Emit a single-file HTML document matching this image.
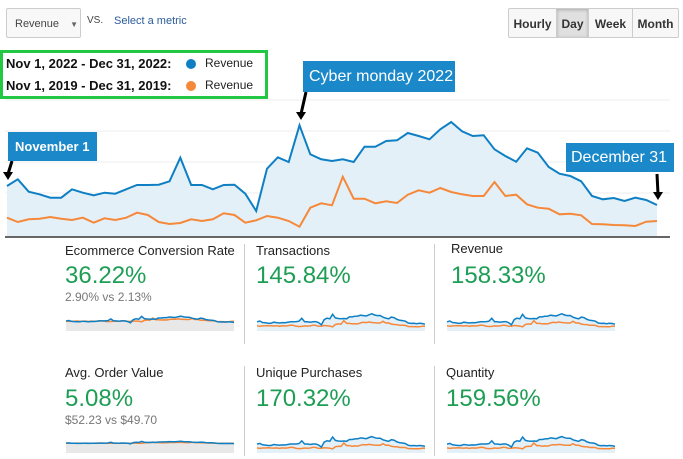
<!DOCTYPE html>
<html><head><meta charset="utf-8">
<style>
body{margin:0;width:683px;height:459px;background:#fff;font-family:"Liberation Sans",Arial,sans-serif;position:relative;overflow:hidden}
.abs{position:absolute}
.btn{position:absolute;top:8px;height:30px;border:1px solid #ccc;background:#f7f7f7;font-size:12px;font-weight:bold;color:#333;line-height:30px;text-align:center;box-sizing:border-box}
.title{position:absolute;font-size:13px;color:#222}
.big{position:absolute;font-size:24px;color:#1e9e55}
.sub{position:absolute;font-size:12px;color:#777}
.lbl{position:absolute;background:#1a88c9;color:#fff;box-sizing:border-box}
</style></head><body>
<div class="abs" style="left:6px;top:8px;width:75px;height:30px;border:1px solid #ccc;border-radius:2px;background:#f8f8f8;font-size:11px;color:#444;line-height:30px;box-sizing:border-box;padding-left:8px">Revenue <span style="font-size:8px;margin-left:8px;color:#666">▼</span></div>
<div class="abs" style="left:87px;top:15px;font-size:10px;color:#444">VS.</div>
<div class="abs" style="left:114px;top:15px;font-size:11px;color:#2a5b9a">Select a metric</div>
<div class="btn" style="left:508px;width:49px;border-radius:2px 0 0 2px">Hourly</div>
<div class="btn" style="left:556px;width:33px;background:#e0e0e0;box-shadow:inset 0 1px 3px #aaa">Day</div>
<div class="btn" style="left:588px;width:45px">Week</div>
<div class="btn" style="left:632px;width:47px;border-radius:0 2px 2px 0">Month</div>
<div class="abs" style="left:0;top:50px;width:268px;height:49px;border:3px solid #22c744;box-sizing:border-box"></div>
<div class="abs" style="left:6px;top:56px;font-size:13px;font-weight:bold;color:#111">Nov 1, 2022 - Dec 31, 2022:</div>
<div class="abs" style="left:6px;top:78px;font-size:13px;font-weight:bold;color:#111">Nov 1, 2019 - Dec 31, 2019:</div>
<div class="abs" style="left:186px;top:59px;width:10px;height:10px;border-radius:5px;background:#0f7fc4"></div>
<div class="abs" style="left:186px;top:81px;width:10px;height:10px;border-radius:5px;background:#f6883a"></div>
<div class="abs" style="left:205px;top:56px;font-size:12px;color:#222">Revenue</div>
<div class="abs" style="left:205px;top:78px;font-size:12px;color:#222">Revenue</div>

<svg id="main" class="abs" style="left:0;top:0" width="683" height="459"></svg>

<div class="lbl" style="left:8px;top:132px;width:89px;height:29px;font-size:13px;font-weight:bold;line-height:29px;padding-left:7px">November 1</div>
<div class="lbl" style="left:303px;top:61px;width:152px;height:31px;font-size:16px;line-height:31px;padding-left:6px">Cyber monday 2022</div>
<div class="lbl" style="left:566px;top:143px;width:108px;height:29px;font-size:16px;line-height:29px;padding-left:5px">December 31</div>

<div class="abs" style="left:244px;top:244px;width:1px;height:100px;background:#ccc"></div>
<div class="abs" style="left:434px;top:244px;width:1px;height:100px;background:#ccc"></div>
<div class="abs" style="left:244px;top:366px;width:1px;height:90px;background:#ccc"></div>
<div class="abs" style="left:434px;top:366px;width:1px;height:90px;background:#ccc"></div>

<div class="title" style="left:65px;top:243px">Ecommerce Conversion Rate</div>
<div class="big" style="left:65px;top:262px">36.22%</div>
<div class="sub" style="left:65px;top:290px">2.90% vs 2.13%</div>
<div class="title" style="left:256px;top:243px">Transactions</div>
<div class="big" style="left:256px;top:262px">145.84%</div>
<div class="title" style="left:451px;top:241px">Revenue</div>
<div class="big" style="left:451px;top:262px">158.33%</div>
<div class="title" style="left:65px;top:365px">Avg. Order Value</div>
<div class="big" style="left:65px;top:385px">5.08%</div>
<div class="sub" style="left:65px;top:413px">$52.23 vs $49.70</div>
<div class="title" style="left:256px;top:365px">Unique Purchases</div>
<div class="big" style="left:256px;top:385px">170.32%</div>
<div class="title" style="left:446px;top:365px">Quantity</div>
<div class="big" style="left:446px;top:385px">159.56%</div>

<script>
const revenue2022 = [150,170,133,125,115,115,140,130,122,130,127,140,153,153,154,164,235,153,153,140,153,154,127,75,202,236,222,332,245,230,225,230,222,268,268,285,287,309,300,290,320,342,314,300,302,260,240,223,263,250,207,187,180,164,120,110,114,105,115,108,93];
const revenue2019 = [55,42,50,52,57,52,48,55,40,53,48,55,70,63,42,36,39,50,45,50,68,63,40,47,60,55,45,28,85,98,92,178,112,112,98,104,99,124,137,130,144,132,125,120,120,162,120,124,95,85,82,65,67,62,36,35,33,32,30,43,45];
const yMax = 435;
const NS='http://www.w3.org/2000/svg';
const svg=document.getElementById('main');
function mk(tag,attrs){const e=document.createElementNS(NS,tag);for(const k in attrs)e.setAttribute(k,attrs[k]);svg.appendChild(e);return e;}
const X0=7,X1=657,Y0=236,H=145;
const xs=i=>X0+(X1-X0)*i/(revenue2022.length-1);
const ys=v=>Y0-v/yMax*H;
[100,131,162,193].forEach(y=>{
  const g=mk('line',{x1:5,x2:670,y1:y,y2:y,stroke:'#eeeeee','stroke-width':1});
  
  
});
function pts(arr,xf,yf){return arr.map((v,i)=>xf(i).toFixed(1)+','+yf(v).toFixed(1)).join(' ');}
const area=mk('polygon',{points:X0+','+Y0+' '+pts(revenue2022,xs,ys)+' '+X1+','+Y0,fill:'#e3f0f8'});


const lo=mk('polyline',{points:pts(revenue2019,xs,ys),fill:'none',stroke:'#f6883a','stroke-width':2});


const lb=mk('polyline',{points:pts(revenue2022,xs,ys),fill:'none',stroke:'#0f7fc4','stroke-width':2});


const ax=mk('line',{x1:5,x2:670,y1:Y0+1,y2:Y0+1,stroke:'#333','stroke-width':1.5});


function arrow(x1,y1,x2,y2,name){
  const l=mk('line',{x1:x1,y1:y1,x2:x2,y2:y2-6,stroke:'#000','stroke-width':3});
  
  
  const p=mk('polygon',{points:(x2-5)+','+(y2-8)+' '+(x2+5)+','+(y2-8)+' '+x2+','+y2,fill:'#000'});
  
  
}
arrow(12,161,8,180,'arrow-november-1');
arrow(306,92,301,120,'arrow-cyber-monday');
arrow(657,174,658,200,'arrow-december-31');
const sparks=[[66,234,313,331,'#e8e8e8',0.6],[257,425,313,331,'#e3f0f8',1],[447,615,313,331,'#e3f0f8',1],[66,234,437,453,'#e8e8e8',0.25],[257,425,436,453,'#e3f0f8',1],[447,615,436,453,'#e3f0f8',1]];
sparks.forEach((s,k)=>{
  const [a,b,t,bt,fill,amp]=s;
  const sx=i=>a+(b-a)*i/(revenue2022.length-1);
  const sy=v=>bt-3-(v*amp+(1-amp)*200)/yMax*(bt-t);
  const f=mk('polygon',{points:a+','+bt+' '+pts(revenue2022,sx,sy)+' '+b+','+bt,fill:fill});
  
  
  const o=mk('polyline',{points:pts(revenue2019,sx,v=>sy(k%3===0?v+90:v)),fill:'none',stroke:'#f6883a','stroke-width':1.5});
  
  
  const p=mk('polyline',{points:pts(revenue2022,sx,sy),fill:'none',stroke:'#0f7fc4','stroke-width':1.5});
  
  
});
</script>
</body></html>
